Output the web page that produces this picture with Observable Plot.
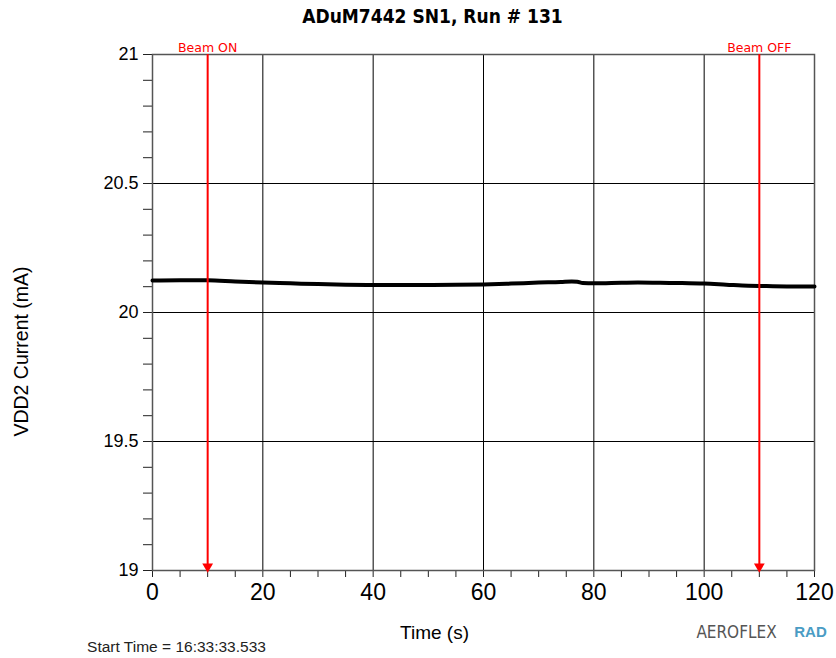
<!DOCTYPE html>
<html>
<head>
<meta charset="utf-8">
<script src="https://cdn.jsdelivr.net/npm/d3@7"></script>
<script src="https://cdn.jsdelivr.net/npm/@observablehq/plot@0.6"></script>
<style>
  html, body { margin: 0; padding: 0; background: #fff; }
  #chart svg { display: block; }
</style>
</head>
<body>
<div id="chart"></div>
<script>
// ---- data ----
const titleText = "ADuM7442 SN1, Run # 131";
const xLabel = "Time (s)";
const yLabel = "VDD2 Current (mA)";
const startTimeText = "Start Time = 16:33:33.533";
const timeValues = [0, 5, 10, 15, 20, 25, 30, 35, 40, 45, 50, 55, 60, 65, 70, 74, 76, 77, 78, 80, 85, 88, 92, 96, 100, 104, 108, 110, 115, 120];
const currentValues = [20.124, 20.125, 20.125, 20.120, 20.116, 20.113, 20.110, 20.108, 20.107, 20.107, 20.107, 20.108, 20.109, 20.112, 20.116, 20.118, 20.120, 20.119, 20.114, 20.113, 20.115, 20.116, 20.115, 20.114, 20.112, 20.108, 20.104, 20.103, 20.101, 20.101];
const beamTimes = [10, 110];
const beamLabels = ["Beam ON", "Beam OFF"];
const xTicksMajor = [0, 20, 40, 60, 80, 100, 120];
const yTicksMajor = [19, 19.5, 20, 20.5, 21];

const series = timeValues.map((t, i) => ({t, v: currentValues[i]}));
const beams = beamTimes.map((t, i) => ({t, label: beamLabels[i]}));
const xMinor = d3.range(0, 121, 5);
const yMinor = d3.range(190, 211).map(d => d / 10);

const ML = 152, MT = 54;
const sans = "'Liberation Sans', Arial, sans-serif";
const narrow = "'Liberation Sans Narrow', 'DejaVu Sans Condensed', sans-serif";

const chart = Plot.plot({
  width: 836,
  height: 658,
  marginTop: MT,
  marginLeft: ML,
  marginRight: 22,
  marginBottom: 88,
  style: {fontFamily: sans, background: "#fff", color: "#000", overflow: "visible"},
  x: {domain: [0, 120]},
  y: {domain: [19, 21]},
  marks: [
    Plot.gridX(xTicksMajor.filter(d => d > 0 && d < 120), {stroke: "#000", strokeOpacity: 1, strokeWidth: 1}),
    Plot.gridY(yTicksMajor.filter(d => d > 19 && d < 21), {stroke: "#000", strokeOpacity: 1, strokeWidth: 1}),
    Plot.axisX({ticks: xMinor, tickSize: 7, tickPadding: 6, fontSize: 23, label: null,
      tickFormat: d => xTicksMajor.includes(d) ? String(d) : "", stroke: "#222"}),
    Plot.axisY({ticks: yMinor, tickSize: 9, tickPadding: 5, fontSize: 18, label: null,
      tickFormat: d => yTicksMajor.includes(d) ? String(d) : "", stroke: "#222"}),
    Plot.frame({stroke: "#555", strokeWidth: 1.5}),
    Plot.line(series, {x: "t", y: "v", stroke: "#000", strokeWidth: 4, curve: "monotone-x"}),
    Plot.ruleX(beams, {x: "t", y1: 21, y2: 19, stroke: "#ff0000", strokeWidth: 2}),
    Plot.dot(beams, {x: "t", y: () => 19, symbol: "triangle", rotate: 180, r: 4, fill: "#ff0000", stroke: "none", dy: -4}),
    Plot.text(beams, {x: "t", text: "label", frameAnchor: "top", lineAnchor: "bottom", dy: -3, fill: "#ff0000", fontSize: 12.5, fontFamily: "'DejaVu Sans', sans-serif"}),
    Plot.text([titleText], {text: d => d, frameAnchor: "top-left", lineAnchor: "middle", dx: 432 - ML, dy: 16 - MT, textAnchor: "middle",
      fontSize: 19, fontWeight: "bold", fontFamily: narrow, fill: "#000"}),
    Plot.text([yLabel], {text: d => d, frameAnchor: "top-left", lineAnchor: "middle", dx: 21 - ML, dy: 351 - MT, rotate: -90, textAnchor: "middle",
      fontSize: 19.5, fill: "#000"}),
    Plot.text([xLabel], {text: d => d, frameAnchor: "top-left", lineAnchor: "middle", dx: 434 - ML, dy: 632 - MT, textAnchor: "middle",
      fontSize: 19, fill: "#000"}),
    Plot.text([startTimeText], {text: d => d, frameAnchor: "top-left", lineAnchor: "middle", dx: 176 - ML, dy: 647 - MT, textAnchor: "middle",
      fontSize: 15.5, fill: "#222"}),
    Plot.text(["AEROFLEX"], {text: d => d, frameAnchor: "top-left", lineAnchor: "middle", dx: 736 - ML, dy: 632 - MT, textAnchor: "middle",
      fontSize: 17, fill: "#555", fontFamily: narrow}),
    Plot.text(["RAD"], {text: d => d, frameAnchor: "top-left", lineAnchor: "middle", dx: 810 - ML, dy: 632 - MT, textAnchor: "middle",
      fontSize: 15, fontWeight: "bold", fill: "#4a9cc4"})
  ]
});
document.getElementById("chart").appendChild(chart);
</script>
</body>
</html>
